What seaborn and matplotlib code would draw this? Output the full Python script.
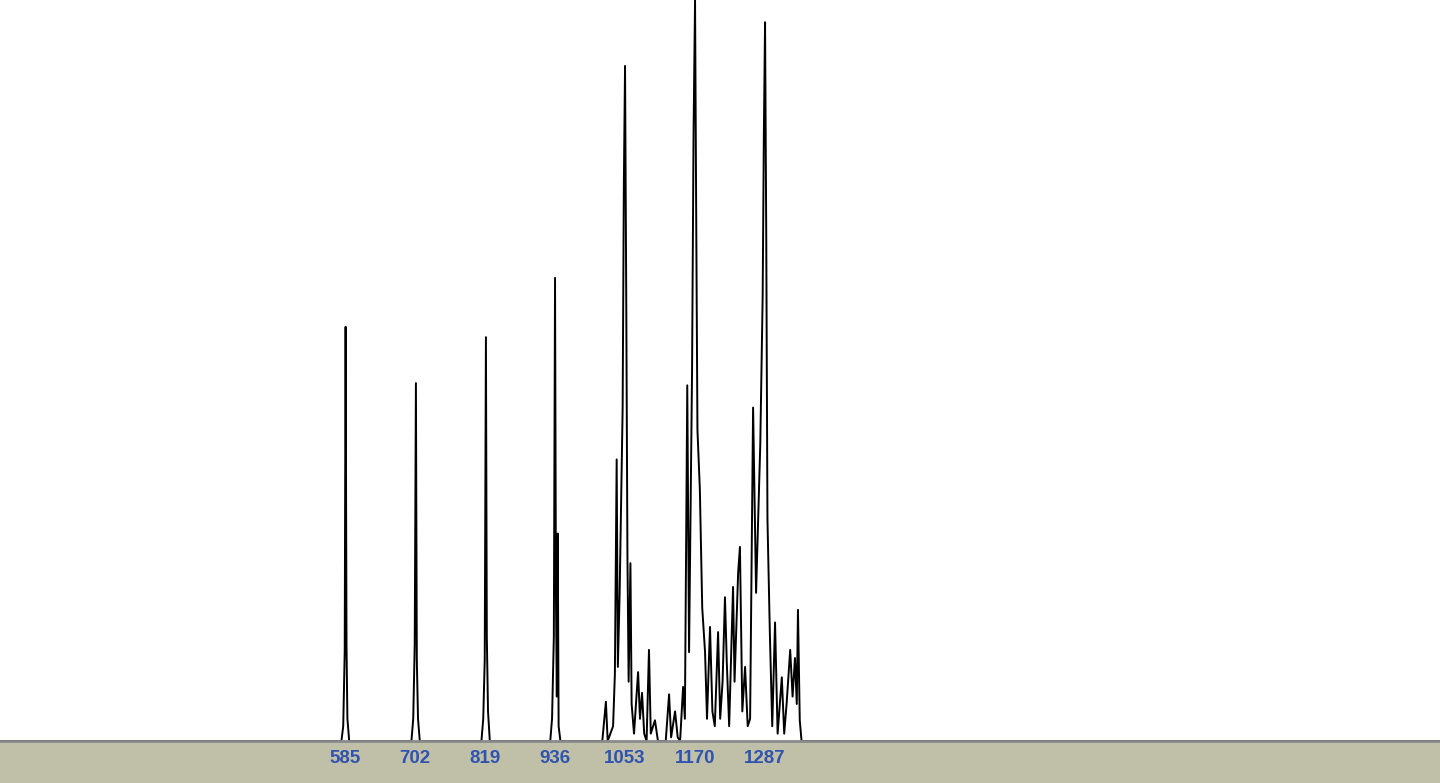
import numpy as np
import pandas as pd
import seaborn as sns
import matplotlib.pyplot as plt

# spectrum trace: m/z and relative intensity (axis top = 100)
mz = [
    8, 575,
    579, 582, 584.5, 586, 587.5, 589, 592,
    696, 699, 701.5, 703.5, 705, 707, 710,
    813, 816, 818.5, 820.5, 822, 824, 827,
    928, 931, 934, 936, 937.5, 939, 940.5, 942, 945,
    1015, 1021, 1024, 1033, 1036, 1039, 1041, 1044, 1049, 1051, 1053, 1055,
    1057, 1059, 1062, 1064,
    1068, 1074.8, 1078, 1081.4, 1085, 1089, 1093, 1096, 1103, 1108, 1121, 1126.6, 1130,
    1136.6, 1141, 1145, 1150, 1153, 1157, 1160, 1165, 1167.5, 1170, 1172, 1174,
    1178, 1182,
    1186.7, 1190, 1195, 1199, 1203, 1208.5, 1212, 1216, 1220, 1223, 1227,
    1233.5, 1236, 1242, 1245, 1249, 1253.6, 1258, 1262, 1267, 1272, 1279,
    1283, 1285, 1287, 1289, 1291, 1295, 1299, 1303.7, 1308, 1315, 1319, 1323,
    1329, 1333, 1337, 1340, 1342, 1345, 1348,
    2415,
]
intensity = [
    0, 0,
    0, 2, 12, 55.9, 13, 3, 0,
    0, 3, 13, 48.3, 11, 3, 0,
    0, 3, 11, 54.5, 14, 4, 0,
    0, 3, 14, 62.5, 20, 6, 28, 2, 0,
    0, 5.3, 0, 2, 9, 38, 10, 20, 45, 75, 91.1, 60,
    25, 8, 24, 5,
    1, 9.3, 3, 6.5, 1, 0, 12.3, 1, 2.8, 0, 0, 6.3, 0.5,
    4, 0.5, 0, 7.3, 3, 48, 12, 50, 82, 100, 70, 42,
    34, 18,
    12, 3, 15.4, 4, 2, 14.7, 3, 8, 19.4, 10.7, 2,
    20.8, 8, 22.7, 26.2, 4, 10, 2, 3, 45, 20, 40,
    60, 82, 97, 68, 30, 14.6, 2, 16, 1, 8.6, 1, 5,
    12.3, 6, 11.2, 5, 17.7, 2.8, 0,
    0,
]
tick_values = [585, 702, 819, 936, 1053, 1170, 1287]

df = pd.DataFrame({"mz": mz, "intensity": intensity})

sns.set_style("white")
plt.rcParams['font.family'] = ['Liberation Sans', 'DejaVu Sans']

fig = plt.figure(figsize=(14.4, 7.83), dpi=100, facecolor="#c0c0a8")
ax = fig.add_axes([0, 0.0536, 1, 0.9464])
ax.set_facecolor("white")

sns.lineplot(data=df, x="mz", y="intensity", color="black", linewidth=1.4,
             estimator=None, sort=False, ax=ax)

ax.set_xlim(8.4, 2415)
ax.set_ylim(0, 100)
ax.set_xticks(tick_values)
ax.set_xticklabels([str(v) for v in tick_values], color="#3153b0",
                   fontsize=13.5, fontweight="bold")
ax.tick_params(axis="x", length=0, pad=6.5)
ax.set_yticks([])
ax.set_xlabel("")
ax.set_ylabel("")
for side in ["top", "left", "right"]:
    ax.spines[side].set_visible(False)
ax.spines["bottom"].set_color("#8a8a8a")
ax.spines["bottom"].set_linewidth(2)

fig.savefig("out.png", dpi=100, facecolor=fig.get_facecolor())
